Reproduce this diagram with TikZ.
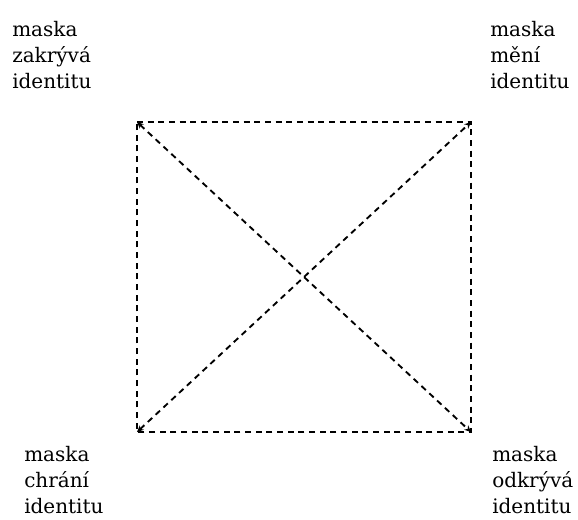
\documentclass[tikz,border=0pt]{standalone}
\usepackage{fontspec}
\setmainfont{DejaVu Serif}
\usetikzlibrary{arrows.meta}
\begin{document}
\begin{tikzpicture}[x=0.75pt,y=-0.75pt,
  lbl/.style={anchor=north west,inner sep=0pt,align=left,font=\fontsize{15}{19.5}\selectfont},
  dline/.style={line width=1.4pt,dash pattern=on 4.5pt off 3.5pt},
  tipped/.style={dline,{Stealth[length=5pt,width=4.5pt]}-{Stealth[length=5pt,width=4.5pt]}}]
\useasboundingbox (0,0) rectangle (578,519);
\coordinate (A) at (137,122);
\coordinate (B) at (471,122);
\coordinate (C) at (137,432);
\coordinate (D) at (471,432);
\draw[dline] (A) -- (B) -- (D) -- (C) -- cycle;
\draw[tipped] (A) -- (D);
\draw[tipped] (C) -- (B);
\node[lbl] (tl) at (12,21) {maska\\zakrývá\\identitu};
\node[lbl] (tr) at (490,21) {maska\\mění\\identitu};
\node[lbl] (bl) at (24,446) {maska\\chrání\\identitu};
\node[lbl] (br) at (492,446) {maska\\odkrývá\\identitu};
\end{tikzpicture}
\end{document}
